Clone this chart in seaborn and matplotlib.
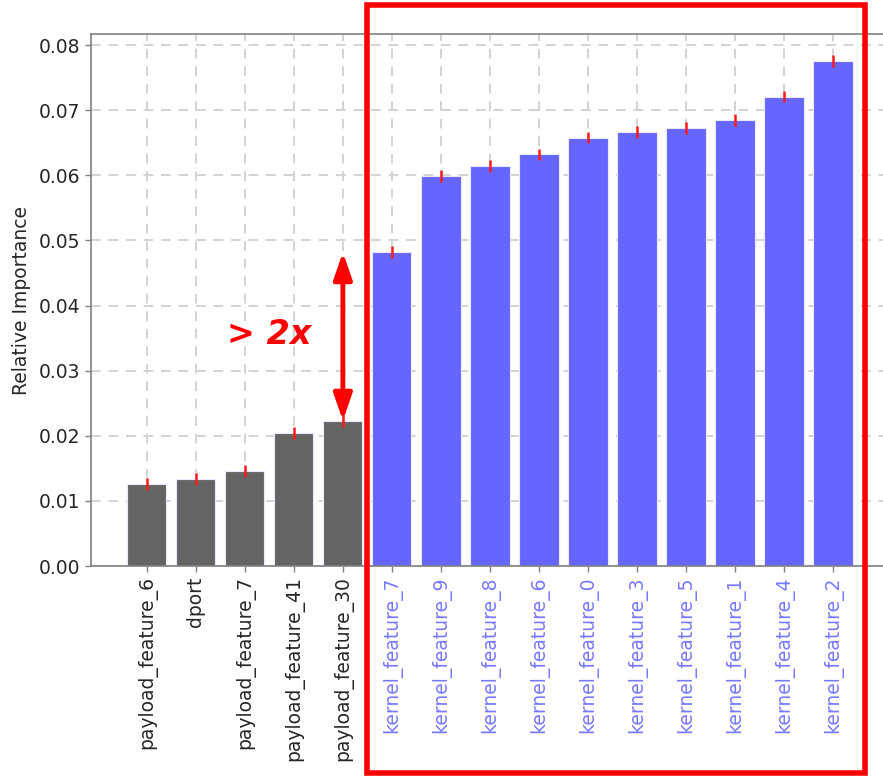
import matplotlib
matplotlib.use("Agg")
import matplotlib.pyplot as plt
import matplotlib.transforms as mtransforms
from matplotlib.patches import Rectangle
import numpy as np
import pandas as pd
import seaborn as sns

# Feature importances (sorted ascending) with their spread
features = ["payload_feature_6", "dport", "payload_feature_7", "payload_feature_41",
            "payload_feature_30", "kernel_feature_7", "kernel_feature_9", "kernel_feature_8",
            "kernel_feature_6", "kernel_feature_0", "kernel_feature_3", "kernel_feature_5",
            "kernel_feature_1", "kernel_feature_4", "kernel_feature_2"]
importance = [0.0126, 0.0134, 0.0146, 0.0204, 0.0223, 0.0482, 0.0599, 0.0614,
              0.0632, 0.0658, 0.0667, 0.0673, 0.0685, 0.0721, 0.0775]
spread = [0.0009] * 15
groups = ["other"] * 5 + ["kernel"] * 10

y_ticks = [0.00, 0.01, 0.02, 0.03, 0.04, 0.05, 0.06, 0.07, 0.08]

GRAY = "#646464"
BLUE = "#6666ff"
LABEL_BLUE = "#7878ff"

sns.set_style("white")
plt.rcParams["font.family"] = ["DejaVu Sans"]

df = pd.DataFrame({"feature": features, "importance": importance, "group": groups})

fig = plt.figure(figsize=(8.83, 7.76), dpi=100)
ax = fig.add_axes([0.103, 0.2706, 0.897, 0.6856])

sns.barplot(data=df, x="feature", y="importance", hue="group",
            palette={"other": GRAY, "kernel": BLUE}, saturation=1, dodge=False,
            width=0.8, edgecolor="#e8e8ff", linewidth=0.8, legend=False, ax=ax,
            zorder=2)

ax.errorbar(np.arange(len(features)), importance, yerr=spread, fmt="none",
            ecolor="#ff1a1a", elinewidth=1.8, capsize=0, zorder=3)

ax.set_xlim(-1.14, 15.02)
ax.set_ylim(0, 0.0817)
ax.set_yticks(y_ticks)
ax.set_yticklabels([f"{t:.2f}" for t in y_ticks])
ax.set_xlabel("")
ax.set_ylabel("Relative Importance", fontsize=13.5, color="#262626", labelpad=6)

ax.grid(True, linestyle=(0, (5, 4)), color="#d3d3d3", linewidth=1.4, zorder=0)
ax.set_axisbelow(True)

ax.tick_params(axis="y", labelsize=13.5, colors="#262626", direction="out",
               length=4, width=1, color="#808080", left=True)
ax.tick_params(axis="x", labelsize=13.5, direction="out", length=4, width=1,
               color="#808080", bottom=True, labelrotation=90)
for lbl, g in zip(ax.get_xticklabels(), groups):
    lbl.set_color(LABEL_BLUE if g == "kernel" else "#262626")

for side in ["left", "top", "bottom"]:
    ax.spines[side].set_color("#808080")
    ax.spines[side].set_linewidth(1.2)
ax.spines["right"].set_visible(False)

# Highlight box around kernel features
trans = mtransforms.blended_transform_factory(ax.transData, fig.transFigure)
box = Rectangle((4.5, 0.004), 10.15, 0.99, transform=trans, fill=False,
                edgecolor="#ff0000", linewidth=4, clip_on=False, zorder=5)
fig.add_artist(box)

# Double arrow showing the gap between the two groups
ax.annotate("", xy=(4.0, importance[5]), xytext=(4.0, importance[4]),
            arrowprops=dict(arrowstyle="<|-|>,head_length=1.6,head_width=0.55",
                            color="#ff0000", lw=3.5, shrinkA=0, shrinkB=0), zorder=6)
ax.text(2.5, 0.0355, "> 2x", color="#ff0000", fontsize=24, fontweight="bold",
        fontstyle="italic", ha="center", va="center", zorder=6)

fig.savefig("out.png", dpi=100)
